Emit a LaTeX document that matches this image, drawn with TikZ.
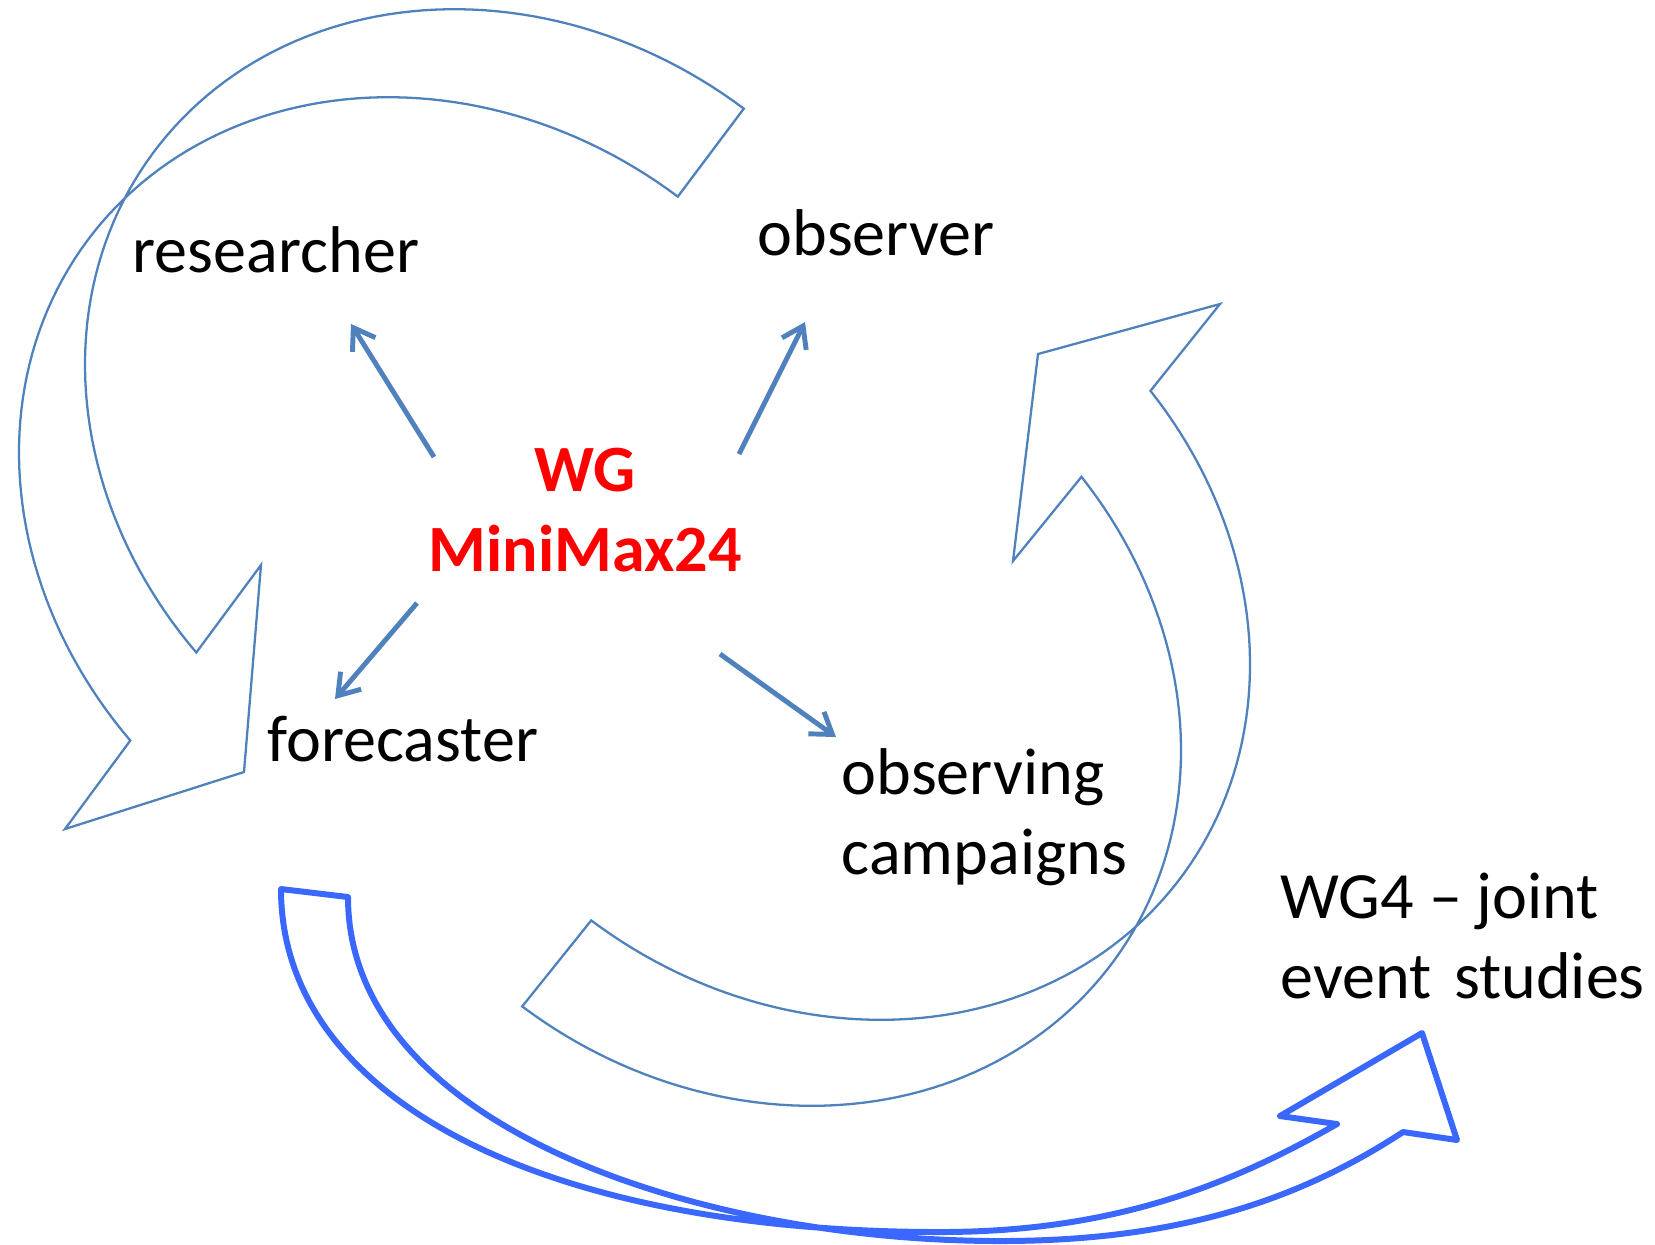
\documentclass[tikz,border=0pt]{standalone}
\usepackage{fontspec}
\setmainfont{Carlito}
\usetikzlibrary{arrows.meta}
\definecolor{steel}{RGB}{79,129,189}
\definecolor{brightblue}{RGB}{58,104,255}
\definecolor{wgred}{RGB}{255,0,0}
\begin{document}
\begin{tikzpicture}[x=0.01cm,y=-0.01cm,
    declare function={elx(\c,\t)=\c+356.8*cos(\t)-232.8*sin(\t); ely(\c,\t)=\c+267.6*cos(\t)+310.4*sin(\t);},
    band/.style={draw=steel,line width=0.65pt,line join=miter},
    bigband/.style={draw=brightblue,line width=1.7pt,line join=round,line cap=round},
    link/.style={draw=steel,line width=1.4pt,-{Straight Barb[length=0.2cm,width=0.27cm]}},
    lab/.style={inner sep=0pt,anchor=base west,align=left,font=\fontsize{18.8}{22.5}\selectfont}]
    \useasboundingbox (0,0) rectangle (1655,1244);
    \draw[band] plot[domain=-90:-255.5,samples=100] ({elx(511,\x)},{ely(419,\x)})
        -- (261,565) -- (244,772) -- (65,829)
        -- plot[domain=-255.5:-90,samples=100] ({elx(445,\x)},{ely(507,\x)}) -- cycle;
    \draw[band] plot[domain=-73.1:90,samples=100] ({elx(824,\x)},{ely(610,\x)})
        -- plot[domain=90:-73.1,samples=100] ({elx(755,\x)},{ely(696,\x)})
        -- (1013,561) -- (1038,354) -- (1220,304) -- cycle;
    \draw[bigband] (281,889) .. controls (281,1100) and (545,1232) .. (940,1232)
        .. controls (1110,1232) and (1227,1187) .. (1337,1124)
        -- (1280,1116) -- (1422,1033) -- (1457,1140) -- (1403,1132)
        .. controls (1293,1204) and (1170,1241) .. (1000,1241)
        .. controls (700,1241) and (348,1127) .. (348,897) -- cycle;
    \node[lab] (res) at (132,272) {researcher};
    \node[lab] (obs) at (757,255) {observer};
    \node[lab] (fore) at (267,761) {forecaster};
    \node[lab] (camp) at (841,874) {observing\\campaigns};
    \node[lab] (wg4) at (1280,998) {WG4 – joint\\event\hspace{0.34em}studies};
    \node[lab,anchor=base,align=center,text=wgred,font=\fontsize{18.8}{22.5}\selectfont\bfseries] (wg) at (585,571) {WG\\MiniMax24};
    \coordinate (wg-res) at (434,457);
    \coordinate (res-in) at (351,324);
    \coordinate (wg-obs) at (739,454);
    \coordinate (obs-in) at (805,322);
    \coordinate (wg-fore) at (417,603);
    \coordinate (fore-in) at (335,699);
    \coordinate (wg-camp) at (720,654);
    \coordinate (camp-in) at (836,737);
    \foreach \a/\b in {wg-res/res-in,wg-obs/obs-in,wg-fore/fore-in,wg-camp/camp-in}
        \draw[link] (\a) -- (\b);
\end{tikzpicture}
\end{document}
